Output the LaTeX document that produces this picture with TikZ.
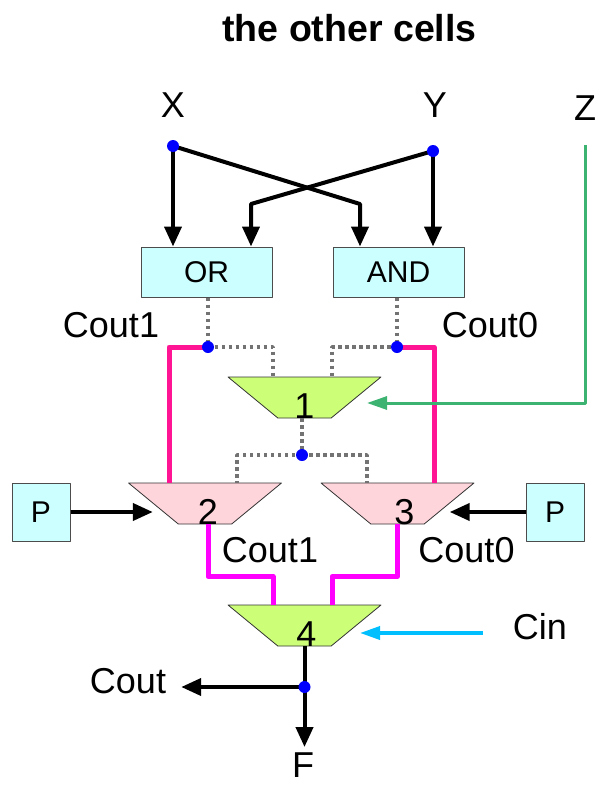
\documentclass[tikz,border=0pt]{standalone}
\usepackage{fontspec}
\setmainfont{Liberation Sans}
\usetikzlibrary{arrows.meta,shapes.geometric}

\definecolor{boxcyan}{HTML}{CCFFFF}
\definecolor{muxgreen}{HTML}{CCFF77}
\definecolor{muxpink}{HTML}{FFD5DC}
\definecolor{wirepink}{HTML}{FF1493}
\definecolor{wiremag}{HTML}{FF00FF}
\definecolor{zgreen}{HTML}{3CB371}
\definecolor{cinblue}{HTML}{00BFFF}

\begin{document}
\begin{tikzpicture}[x=1pt, y=-1pt, line join=round,
  txt/.style={font=\fontsize{36}{40}\selectfont, inner sep=0pt, anchor=base},
  gate/.style={draw=black!70, line width=1pt, fill=boxcyan, minimum width=131pt,
    minimum height=50pt, inner sep=0pt, font=\fontsize{30}{34}\selectfont},
  mux/.style={trapezium, shape border rotate=180, trapezium stretches=true,
    trapezium angle=47, minimum width=153pt, minimum height=41pt, inner sep=2pt,
    draw=black!80, line width=0.8pt},
  wire/.style={line width=4pt, -{Triangle[length=20pt,width=17pt]}},
  dots/.style={black!55, line width=3.5pt, dash pattern=on 3.5pt off 3.5pt},
  selwire/.style={wirepink, line width=5pt},
  outwire/.style={wiremag, line width=5pt},
  thinwire/.style={-{Triangle[length=20pt,width=13pt]}}]
  \useasboundingbox (0,0) rectangle (598,787);

  % Title and inputs
  \node[txt, font=\fontsize{37.5}{42}\selectfont\bfseries] (title) at (349.5,41) {the other cells};
  \node[txt] (x) at (173,117) {X};
  \node[txt] (y) at (435,117) {Y};
  \node[txt] (z) at (585,120) {Z};
  \coordinate (dx) at (173,146);
  \coordinate (dy) at (433,151);

  % Gates
  \node[gate] (or) at (206.5,272) {OR};
  \node[gate] (and) at (398.5,272) {AND};
  \coordinate (xa) at (360,204);
  \coordinate (ya) at (251,204);
  \draw[wire] (dx) -- (dx |- or.north);
  \draw[wire] (dx) -- (xa) -- (xa |- and.north);
  \draw[wire] (dy) -- (dy |- and.north);
  \draw[wire] (dy) -- (ya) -- (ya |- or.north);

  % Muxes
  \node[mux, fill=muxgreen, label={[txt]south:1}] (m1) at (304.5,397.5) {};
  \node[mux, fill=muxpink, label={[txt,xshift=3pt]south:2}] (m2) at (205,503.5) {};
  \node[mux, fill=muxpink, label={[txt,xshift=7pt]south:3}] (m3) at (397.5,503.5) {};
  \node[mux, fill=muxgreen, label={[txt,xshift=2pt]south:4}] (m4) at (304.5,625.5) {};
  \coordinate (m1l) at ([xshift=-31.5pt]m1.north);
  \coordinate (m1r) at ([xshift=27.5pt]m1.north);
  \coordinate (m2l) at ([xshift=-36pt]m2.north);
  \coordinate (m2r) at ([xshift=32pt]m2.north);
  \coordinate (m3l) at ([xshift=-30.5pt]m3.north);
  \coordinate (m3r) at ([xshift=36.5pt]m3.north);
  \coordinate (m4l) at ([xshift=-31.5pt]m4.north);
  \coordinate (m4r) at ([xshift=27.5pt]m4.north);

  % Carry wires
  \coordinate (c1) at (208,347);
  \coordinate (c0) at (397,347);
  \coordinate (c2) at (302,455);
  \node[txt] (cout1a) at (111,337) {Cout1};
  \node[txt] (cout0a) at (490,337) {Cout0};
  \draw[dots] (c1 |- or.south) -- (c1) -| (m1l);
  \draw[dots] (c0 |- and.south) -- (c0) -| (m1r);
  \draw[dots] (m1.south -| c2) -- (c2);
  \draw[dots] (c2) -| (m2r);
  \draw[dots] (c2) -| (m3l);
  \draw[selwire] (c1) -| (m2l);
  \draw[selwire] (c0) -| (m3r);

  % Z select
  \coordinate (zt) at (585,145);
  \coordinate (m1z) at (367,403);
  \draw[thinwire, zgreen, line width=3pt] (zt) |- (m1z);

  % P inputs
  \node[gate, minimum width=58pt, minimum height=58pt] (pl) at (41,512) {P};
  \node[gate, minimum width=58pt, minimum height=58pt] (pr) at (555,512) {P};
  \draw[wire] (pl.east) -- (pl.east -| m2.west);
  \draw[wire] (pr.west) -- (pr.west -| m3.east);

  % Outputs to mux 4
  \node[txt] (cout1b) at (270,562) {Cout1};
  \node[txt] (cout0b) at (466.5,562) {Cout0};
  \draw[outwire] ([xshift=3pt]m2.south) -- ++(0,52) -| (m4l);
  \draw[outwire] (m3.south) -- ++(0,52) -| (m4r);
  \node[txt] (cin) at (540,639) {Cin};
  \coordinate (ci) at (483,633);
  \coordinate (m4c) at (360,633);
  \draw[thinwire, cinblue, line width=3.5pt] (ci) -- (m4c);

  % Final outputs
  \node[txt] (f) at (303,777) {F};
  \node[txt] (cout) at (128,693) {Cout};
  \coordinate (co) at (m4.south |- 0,687);
  \draw[wire, shorten >=5pt] (m4.south) -- (m4.south |- f.north);
  \draw[wire, shorten >=15pt] (co) -- (co -| cout.east);

  % Joints
  \foreach \p in {dx,dy,c1,c0,c2,co}
    \fill[blue] (\p) circle[radius=6pt];
\end{tikzpicture}
\end{document}
